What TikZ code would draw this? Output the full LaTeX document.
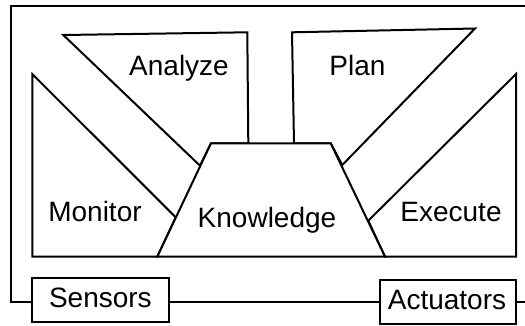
\documentclass[tikz,border=0pt]{standalone}
\usepackage{fontspec}
\setmainfont{Liberation Sans}
\begin{document}
\begin{tikzpicture}[x=1pt,y=-1pt,
  polyshape/.style={draw=black,line width=2pt,line join=miter,fill=white},
  wire/.style={draw=black,line width=2pt},
  lbl/.style={font=\fontsize{28}{30}\selectfont,anchor=base,inner sep=0pt},
  box/.style={draw=black,line width=2pt,fill=white,minimum width=137pt,minimum height=44pt,inner sep=0pt}]
\useasboundingbox (0,0) rectangle (525,325);
\clip (0,0) rectangle (525,325);
% boxes
\node[box] (sensors) at (100.4,299.7) {};
\node[box,minimum width=136pt] (actuators) at (447.5,301.5) {};
\coordinate (cornerBL) at (11,302.3);
\coordinate (cornerTL) at (11,6);
\coordinate (cornerTR) at (540,6);
\coordinate (cornerBR) at (540,302.3);
% outer loop
\draw[wire] (sensors.west |- cornerBL) -- (cornerBL) -- (cornerTL) -- (cornerTR) -- (cornerBR) -- (actuators.east |- cornerBR);
\draw[wire] (sensors.east |- cornerBL) -- (actuators.west |- cornerBL);
\node[lbl] (sensorsText) at (100.4,307.7) {Sensors};
\node[lbl] (actuatorsText) at (447,309) {Actuators};
% Monitor
\draw[polyshape] (32.3,74) -- (175.7,217.3) -- (157.3,256.7) -- (32.3,256.7) -- cycle;
% Analyze
\draw[polyshape] (63.3,35) -- (247.3,32.3) -- (248.3,143.3) -- (211,143.3) -- (200,165.7) -- cycle;
% Plan
\draw[polyshape] (292,32.3) -- (475,28.5) -- (342.3,165) -- (330.7,143.3) -- (294,143.3) -- cycle;
% Execute
\draw[polyshape] (516,74) -- (516,256.7) -- (385,256.7) -- (368.3,220.7) -- cycle;
% Knowledge
\draw[polyshape] (211,143.3) -- (330.7,143.3) -- (385,256.7) -- (157.3,256.7) -- cycle;
% labels
\node[lbl] (analyzeText) at (179,75) {Analyze};
\node[lbl] (planText) at (357.5,75) {Plan};
\node[lbl] (monitorText) at (95,221.7) {Monitor};
\node[lbl] (executeText) at (451,221.7) {Execute};
\node[lbl] (knowledgeText) at (267,227.3) {Knowledge};
\end{tikzpicture}
\end{document}
